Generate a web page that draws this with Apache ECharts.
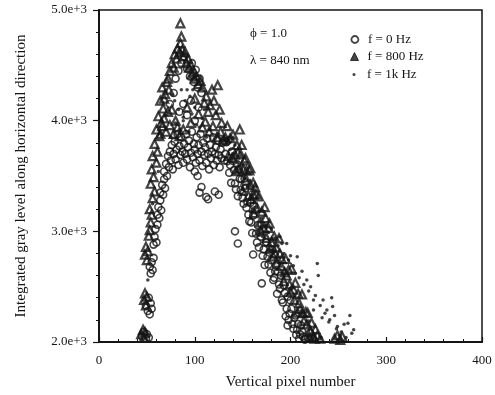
<!DOCTYPE html>
<html>
<head>
<meta charset="utf-8">
<script src="https://cdn.jsdelivr.net/npm/echarts@6/dist/echarts.min.js"></script>
<style>
html, body { margin: 0; padding: 0; background: #fff; }
#chart { width: 495px; height: 395px; }
</style>
</head>
<body>
<div id="chart"></div>
<script>
// axis ticks
var xTicks = [0, 100, 200, 300, 400];
var yTicks = [2000, 3000, 4000, 5000];

var seriesNames = ['f = 0 Hz', 'f = 800 Hz', 'f = 1k Hz'];

// f = 0 Hz (open circles)
var f0Points = [
	[45,2050],[47,2090],[49,2030],[50,2070],[52,2040],
	[49,2330],[51,2280],[52,2400],[53,2250],[54,2350],[55,2300],
	[53,2680],[54,2620],[55,2720],[56,2650],[57,2760],
	[57,2880],[58,2950],[59,3020],[60,2900],[61,3060],
	[61,3150],[62,3220],[63,3120],[64,3280],[65,3190],
	[64,3350],[66,3420],[67,3330],[68,3470],[69,3390],
	[68,3540],[70,3610],[71,3500],[72,3680],[73,3580],[74,3720],[75,3640],[76,3780],[77,3560],[78,3700],
	[79,3810],[80,3650],[81,3740],[82,3880],[83,3600],[84,3770],[85,3690],[86,3850],[87,3720],[88,3620],
	[89,3790],[90,3700],[91,3880],[92,3650],[93,3760],[94,3820],[95,3580],[96,3710],[97,3900],[98,3670],
	[99,3790],[100,3740],[101,3620],[102,3850],[103,3700],[104,3780],[105,3640],[106,3880],[107,3720],[108,3590],
	[109,3800],[110,3690],[111,3760],[112,3620],[113,3840],[114,3700],[115,3560],[116,3780],[117,3660],[118,3720],
	[119,3850],[120,3600],[121,3700],[122,3760],[123,3640],[124,3820],[125,3690],[126,3580],[127,3740],[128,3660],[129,3800],
	[100,3540],[103,3500],[105,3350],[107,3400],[112,3310],[114,3290],[121,3360],[125,3330],
	[80,4380],[83,4450],[86,4520],[89,4580],[92,4470],[95,4400],[97,4520],[99,4350],[101,4460],[103,4300],
	[105,4380],[107,4250],[96,4180],[88,4150],[92,4050],[84,4080],[100,4000],[104,4120],[78,4250],[74,4150],
	[130,3820],[131,3640],[133,3806],[134,3634],[135,3822],[137,3600],[138,3438],[140,3635],[141,3554],[142,3432],
	[144,3609],[145,3318],[147,3475],[148,3373],[149,3472],[151,3249],[152,3477],[154,3214],[155,3263],[157,3090],
	[158,3258],[160,2985],[161,3144],[163,3191],[164,2979],[166,3056],[167,2855],[169,2952],[170,3060],[172,2837],
	[173,2696],[175,2903],[176,2771],[178,2808],[179,2627],[181,2834],[183,2581],[184,2639],[186,2436],[187,2635],
	[189,2482],[190,2600],[192,2357],[194,2444],[195,2233],[197,2410],[199,2257],[200,2375],[202,2162],[204,2219],
	[206,2066],[208,2163],[210,2070],[212,2097],[215,2030],[218,2040],
	[132,3700],[136,3530],[139,3720],[143,3380],[146,3560],[150,3300],[153,3390],[156,3150],[159,3080],[162,3230],
	[165,2900],[168,2990],[171,2780],[174,2900],[177,2700],[180,2740],[182,2560],[185,2690],[188,2520],[191,2380],
	[193,2510],[196,2300],[198,2200],[201,2300],[203,2120],[205,2240],[207,2110],[209,2030],[211,2150],[213,2050],
	[220,2080],[223,2030],
	[142,3000],[145,2890],[161,2790],[170,2530],[197,2150],[215,2020]
];

// f = 800 Hz (triangles)
var f800Points = [
	[44,2070],[46,2110],[47,2040],[48,2090],
	[47,2380],[48,2440],[49,2330],[50,2410],
	[48,2790],[49,2860],[50,2740],[51,2820],
	[52,2960],[53,3010],[54,3080],[55,3150],[53,3200],
	[56,3300],[58,3360],[54,3430],[57,3490],[55,3560],[60,3620],[56,3680],[61,3720],[58,3790],[63,3860],
	[60,3920],[65,3980],[62,4040],[67,4110],[64,4180],[69,4240],[66,4300],[71,4350],[73,4280],[68,4200],[72,4380],
	[85,4880],[86,4760],
	[74,4450],[76,4520],[78,4480],[79,4600],[81,4560],[82,4650],[84,4620],[85,4700],[87,4640],[88,4580],
	[90,4620],[91,4520],[93,4560],[94,4480],[96,4500],[97,4420],[99,4440],[100,4380],[102,4400],[104,4330],
	[106,4360],[108,4300],
	[64,3880],[66,3950],[68,4020],[70,3900],[72,4080],[74,3960],[76,4100],[78,3880],[80,4000],[82,3940],[84,3860],
	[92,4120],[96,3980],[100,4200],[104,4060],[108,3940],[88,3920],
	[110,4160],[112,4220],[114,4080],[116,4140],[118,4280],[120,4180],[122,4050],[124,4320],[126,4100],[128,3980],
	[111,3990],[115,3900],[119,3950],[123,3850],[127,3900],[130,3820],
	[147,3920],[149,3780],[153,3660],[158,3570],[161,3440],
	[132,3849],[134,3950],[135,3680],[137,3841],[139,3662],[140,3873],[142,3694],[143,3544],[145,3715],[146,3566],
	[148,3697],[150,3368],[151,3558],[153,3459],[154,3550],[156,3321],[157,3551],[159,3292],[161,3333],[162,3164],
	[164,3335],[165,3215],[167,3316],[169,3007],[170,3178],[172,3029],[173,3219],[175,2940],[177,3031],[178,3072],
	[180,2903],[182,2774],[183,2954],[185,2855],[186,2716],[188,2937],[190,2688],[191,2748],[193,2549],[195,2750],
	[196,2601],[198,2652],[200,2453],[201,2663],[203,2474],[205,2535],[207,2266],[208,2437],[210,2298],[212,2429],
	[214,2190],[216,2271],[218,2262],[220,2043],[222,2174],[224,2045],[226,2116],[228,2060],[231,2030],
	[144,3780],[152,3640],[158,3420],[163,3400],[168,3080],[174,3120],[179,2850],[184,2800],[189,2800],[194,2630],
	[199,2520],[204,2380],[209,2350],[213,2260],[217,2160],[221,2100],[225,2030],
	[246,2030],[249,2060],[252,2020],[254,2050]
];

// f = 1k Hz (small dots)
var f1kPoints = [
	[51,2560],[56,3250],[62,3540],
	[77,4230],[79,4180],[83,4100],[86,4280],[88,4030],[90,4180],[92,4280],[95,4220],[98,4280],[100,4120],
	[102,3960],[105,3940],[88,4000],[94,3900],[97,4060],[108,4020],[112,3850],[116,3920],[121,3800],[125,3880],
	[80,3980],[84,3920],[70,4050],[75,3850],[140,3850],[110,4100],
	[135,3820],[137,3740],[140,3700],[142,3780],[145,3620],[147,3560],[150,3600],[152,3480],[155,3400],[157,3460],
	[160,3330],[162,3260],[165,3300],[167,3180],[170,3120],[172,3180],[175,3050],[177,2990],[180,3020],[182,2930],
	[184,2940],[187,2870],[189,2950],[191,2890],[193,2800],[196,2890],[198,2740],[200,2780],[203,2690],[205,2620],
	[207,2770],[209,2580],[212,2640],[214,2520],[217,2560],[219,2460],[221,2500],[224,2380],[224,2290],[226,2420],
	[228,2710],[229,2600],[231,2330],[233,2220],[234,2380],[236,2260],[238,2290],[240,2180],[241,2200],[243,2400],
	[244,2320],[246,2240],[248,2120],[249,2140],[251,2060],[253,2090],[256,2160],[258,2040],[260,2170],[262,2240],
	[264,2080],[266,2110],
	[150,3380],[158,3180],[171,2950],[179,2830],[192,2610],[199,2480],[211,2280],[219,2190],[232,2040]
];

var serif = '"Liberation Serif", "DejaVu Serif", serif';
var ink = '#151515';

function legendItem(name, top, size, style) {
	return {
		orient : 'vertical',
		left : 349 - size / 2,
		top : top,
		itemWidth : size,
		itemHeight : size,
		data : [ { name : name, itemStyle : style } ],
		textStyle : {
			fontFamily : serif,
			fontSize : 13,
			color : ink,
			padding : [ 0, 0, 0, 8 - size / 2 ]
		}
	};
}

var chart = echarts.init(document.getElementById('chart'));
var option = {
	animation : false,
	backgroundColor : '#fff',
	grid : {
		left : 99,
		top : 10,
		width : 383,
		height : 332,
		show : true,
		borderColor : ink,
		borderWidth : 1.5
	},
	legend : [
		legendItem(seriesNames[0], 28, 7, { color : '#fff', borderColor : ink, borderWidth : 1.8 }),
		legendItem(seriesNames[1], 45, 8, { color : ink, borderColor : ink, borderWidth : 1 }),
		legendItem(seriesNames[2], 63, 3, { color : ink, borderWidth : 0 })
	],
	graphic : [ {
		type : 'text',
		left : 250,
		top : 27,
		style : { text : 'ϕ = 1.0', font : '13px ' + serif, fill : ink }
	}, {
		type : 'text',
		left : 250,
		top : 54,
		style : { text : 'λ = 840 nm', font : '13px ' + serif, fill : ink }
	} ],
	xAxis : {
		type : 'value',
		min : xTicks[0],
		max : xTicks[xTicks.length - 1],
		interval : 100,
		name : 'Vertical pixel number',
		nameLocation : 'middle',
		nameGap : 33,
		nameTextStyle : { fontFamily : serif, fontSize : 15, color : ink },
		axisLine : { show : true, lineStyle : { color : ink, width : 2 } },
		axisTick : { show : true, inside : true, length : 5, lineStyle : { color : ink, width : 1.2 } },
		minorTick : { show : true, splitNumber : 5, length : 3, lineStyle : { color : ink, width : 1 } },
		axisLabel : { fontFamily : serif, fontSize : 13, color : ink, margin : 12 },
		splitLine : { show : false }
	},
	yAxis : {
		type : 'value',
		min : yTicks[0],
		max : yTicks[yTicks.length - 1],
		interval : 1000,
		name : 'Integrated gray level along horizontal direction',
		nameLocation : 'middle',
		nameGap : 70,
		nameTextStyle : { fontFamily : serif, fontSize : 15, color : ink },
		axisLine : { show : true, lineStyle : { color : ink, width : 2 } },
		axisTick : { show : true, inside : false, length : 6, lineStyle : { color : ink, width : 1.2 } },
		minorTick : { show : true, splitNumber : 5, length : 3, lineStyle : { color : ink, width : 1 } },
		axisLabel : {
			fontFamily : serif,
			fontSize : 13,
			color : ink,
			margin : 12,
			formatter : function (v) { return (v / 1000).toFixed(1) + 'e+3'; }
		},
		splitLine : { show : false }
	},
	series : [ {
		name : seriesNames[0],
		type : 'scatter',
		symbol : 'circle',
		symbolSize : 7,
		data : f0Points,
		itemStyle : { color : 'rgba(255,255,255,0)', borderColor : ink, borderWidth : 1.6 }
	}, {
		name : seriesNames[1],
		type : 'scatter',
		symbol : 'triangle',
		symbolSize : 8,
		data : f800Points,
		itemStyle : { color : 'rgba(255,255,255,0)', borderColor : ink, borderWidth : 2.2 }
	}, {
		name : seriesNames[2],
		type : 'scatter',
		symbol : 'circle',
		symbolSize : 3.5,
		data : f1kPoints,
		itemStyle : { color : ink }
	} ]
};
chart.setOption(option);
</script>
</body>
</html>
